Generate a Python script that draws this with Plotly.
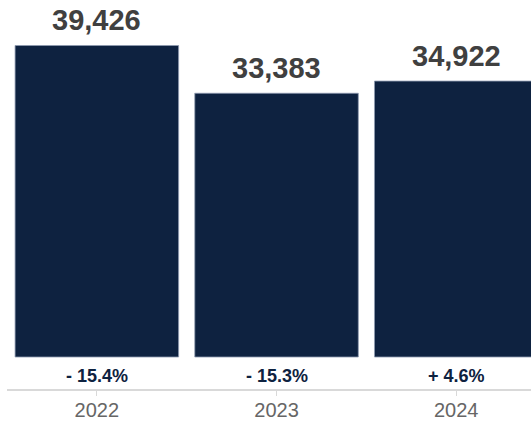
import plotly.graph_objects as go

years = ["2022", "2023", "2024"]
values = [39426, 33383, 34922]
changes = ["- 15.4%", "- 15.3%", "+ 4.6%"]

BAR = "#0e2240"
FONT = "Liberation Sans, Arial, Helvetica, sans-serif"

fig = go.Figure()
fig.add_trace(go.Bar(
    x=years, y=values,
    marker=dict(color=BAR, line=dict(color="#8e9ab0", width=0.8)),
    hoverinfo="skip",
))

for i, v in enumerate(values):
    fig.add_annotation(x=i, y=v, xref="x", yref="y", text=f"<b>{v:,}</b>",
                       showarrow=False, yanchor="bottom", yshift=7,
                       font=dict(family=FONT, size=29, color="#404040"))
for i, c in enumerate(changes):
    fig.add_annotation(x=i, y=0, xref="x", yref="y", text=f"<b>{c}</b>",
                       showarrow=False, yanchor="top", yshift=-7,
                       font=dict(family=FONT, size=18, color=BAR))

px_per_unit = 311.5 / 39426
bottom = -32 / px_per_unit
top = bottom + 389 / px_per_unit
spacing = 179.7
left = 7

fig.update_layout(
    width=531, height=422,
    margin=dict(l=left, r=0, t=0, b=33),
    paper_bgcolor="white", plot_bgcolor="white",
    bargap=0.09, showlegend=False,
    xaxis=dict(type="category", range=[-0.5, (531 - left) / spacing - 0.5],
               showline=True, linecolor="#d9d9d9", linewidth=2,
               ticks="outside", ticklen=5, tickwidth=1, tickcolor="#d9d9d9",
               ticklabelstandoff=-3,
               tickfont=dict(family=FONT, size=20, color="#666666"),
               showgrid=False, zeroline=False, fixedrange=True),
    yaxis=dict(range=[bottom, top], visible=False, showgrid=False,
               zeroline=False, fixedrange=True),
)

fig.write_html("out.html", config={"displayModeBar": False})
